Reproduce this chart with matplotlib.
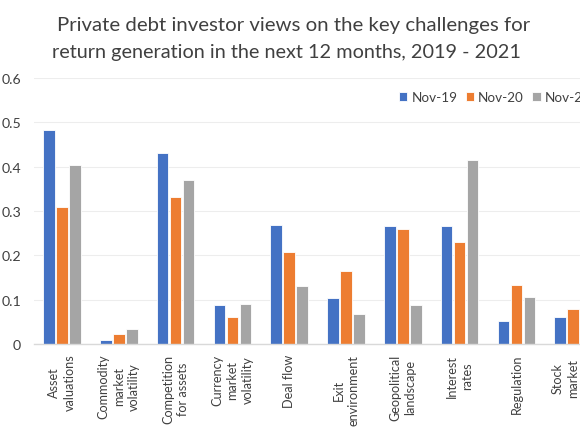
import matplotlib
matplotlib.use("Agg")
import matplotlib.pyplot as plt
import numpy as np

categories = ["Asset\nvaluations", "Commodity\nmarket\nvolatility", "Competition\nfor assets",
              "Currency\nmarket\nvolatility", "Deal flow", "Exit\nenvironment",
              "Geopolitical\nlandscape", "Interest\nrates", "Regulation",
              "Stock\nmarket\nvolatility"]
series_names = ["Nov-19", "Nov-20", "Nov-21"]
nov19 = [0.483, 0.008, 0.430, 0.087, 0.268, 0.103, 0.267, 0.267, 0.051, 0.060]
nov20 = [0.310, 0.022, 0.332, 0.062, 0.208, 0.164, 0.259, 0.231, 0.134, 0.079]
nov21 = [0.404, 0.033, 0.370, 0.090, 0.130, 0.068, 0.089, 0.415, 0.106, 0.120]
yticks = [0, 0.1, 0.2, 0.3, 0.4, 0.5, 0.6]
ytick_labels = ["0", "0.1", "0.2", "0.3", "0.4", "0.5", "0.6"]
title_lines = ["Private debt investor views on the key challenges for",
               "return generation in the next 12 months, 2019 - 2021"]
colors = ["#4472C4", "#ED7D31", "#A5A5A5"]

plt.rcParams['font.family'] = ['Lato', 'DejaVu Sans']
text_color = "#404040"

fig = plt.figure(figsize=(5.8, 4.35), dpi=100)
ax = fig.add_axes([33.6 / 580, 90 / 435, 568 / 580, 266 / 435])

x = np.arange(len(categories))
step = 0.229
for i, (vals, name, c) in enumerate(zip([nov19, nov20, nov21], series_names, colors)):
    ax.bar(x + (i - 1) * step, vals, width=0.205, color=c, edgecolor="white",
           linewidth=0.6, label=name, zorder=3)

ax.set_xlim(-0.5, len(categories) - 0.5)
ax.set_ylim(0, 0.6)
ax.set_yticks(yticks)
ax.set_yticklabels(ytick_labels, fontsize=10.2, color=text_color)
ax.set_xticks(x)
ax.set_xticklabels(categories, rotation=90, ha="center", va="top",
                   multialignment="center", fontsize=9.1, color=text_color,
                   linespacing=1.32)
ax.tick_params(axis="both", length=0)
ax.tick_params(axis="y", pad=9)
ax.tick_params(axis="x", pad=7)
ax.grid(axis="y", color="#ededed", linewidth=0.8, zorder=0)
for s in ["top", "right", "left"]:
    ax.spines[s].set_visible(False)
ax.spines["bottom"].set_color("#d9d9d9")
ax.spines["bottom"].set_linewidth(1.0)
ax.spines["bottom"].set_zorder(4)

leg = ax.legend(loc="center left", bbox_to_anchor=(399 / 580, 1 - 98 / 435),
                bbox_transform=fig.transFigure, ncol=3, frameon=False,
                fontsize=9.7, handlelength=0.62, handleheight=0.62,
                handletextpad=0.3, columnspacing=0.62, borderaxespad=0,
                borderpad=0)
for t in leg.get_texts():
    t.set_color(text_color)

fig.text(294 / 580, 1 - 30.7 / 435, title_lines[0],
         ha="center", va="baseline", fontsize=14.7, color=text_color)
fig.text(286 / 580, 1 - 58.5 / 435, title_lines[1],
         ha="center", va="baseline", fontsize=14.3, color=text_color)

fig.savefig("out.png", dpi=100)
